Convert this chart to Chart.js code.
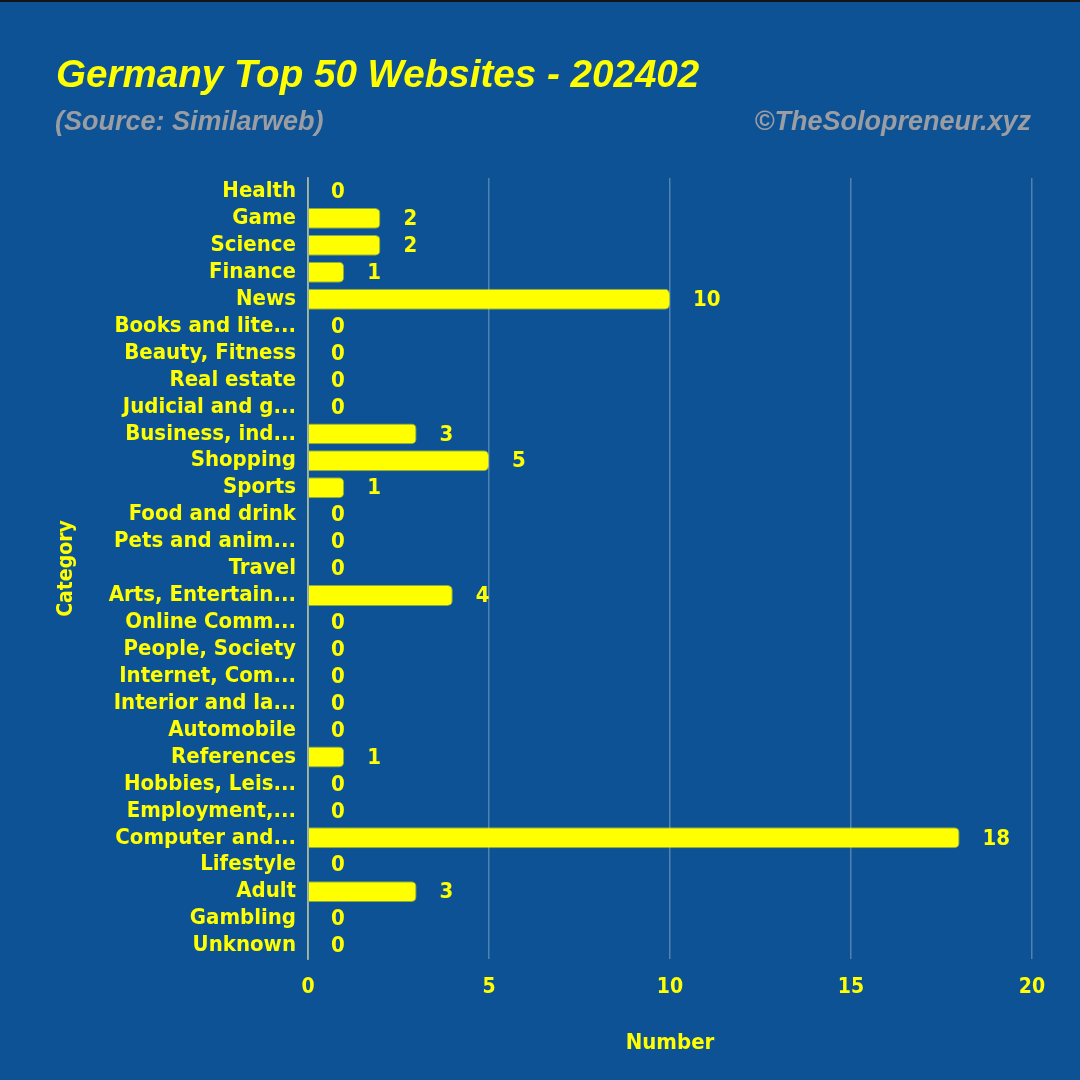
<!DOCTYPE html>
<html>
<head>
<meta charset="utf-8">
<title>Germany Top 50 Websites - 202402</title>
<script src="https://cdn.jsdelivr.net/npm/chart.js@4.4.1/dist/chart.umd.min.js"></script>
<style>
  html, body { margin: 0; padding: 0; background: #0d5294; }
  #wrap { width: 1080px; height: 1080px; }
</style>
</head>
<body>
<div id="wrap"><canvas id="topSitesChart" width="1080" height="1080"></canvas></div>
<script>
// Categories top to bottom, as listed on the chart
const categories = [
    'Health', 'Game', 'Science', 'Finance', 'News',
    'Books and lite...', 'Beauty, Fitness', 'Real estate', 'Judicial and g...',
    'Business, ind...', 'Shopping', 'Sports', 'Food and drink', 'Pets and anim...',
    'Travel', 'Arts, Entertain...', 'Online Comm...', 'People, Society',
    'Internet, Com...', 'Interior and la...', 'Automobile', 'References',
    'Hobbies, Leis...', 'Employment,...', 'Computer and...', 'Lifestyle',
    'Adult', 'Gambling', 'Unknown'
];

// Number of sites per category (sums to 50)
const siteCounts = [
    0, 2, 2, 1, 10,
    0, 0, 0, 0,
    3, 5, 1, 0, 0,
    0, 4, 0, 0,
    0, 0, 0, 1,
    0, 0, 18, 0,
    3, 0, 0
];

const xTickValues = [0, 5, 10, 15, 20];

const titleText = 'Germany Top 50 Websites - 202402';
const sourceText = '(Source: Similarweb)';
const creditText = '\u00A9TheSolopreneur.xyz';

const YELLOW = '#ffff00';
const BG = '#0d5294';
const GREY = '#9a9da3';
const LABEL_FONT = "'DejaVu Sans Condensed', 'DejaVu Sans', sans-serif";
const HEAD_FONT = "'Liberation Sans', Arial, sans-serif";

// background + header texts
const headerPlugin = {
    id: 'header',
    beforeDraw(chart) {
        const ctx = chart.ctx;
        ctx.save();
        ctx.fillStyle = BG;
        ctx.fillRect(0, 0, chart.width, chart.height);
        ctx.fillStyle = '#141414';
        ctx.fillRect(0, 0, chart.width, 2);
        ctx.restore();
    },
    afterDraw(chart) {
        const ctx = chart.ctx;
        ctx.save();
        ctx.textBaseline = 'middle';
        ctx.fillStyle = YELLOW;
        ctx.font = 'italic bold 38.6px ' + HEAD_FONT;
        ctx.textAlign = 'left';
        ctx.fillText(titleText, 56, 76);
        ctx.fillStyle = GREY;
        ctx.font = 'italic bold 27px ' + HEAD_FONT;
        ctx.fillText(sourceText, 55, 123);
        ctx.textAlign = 'right';
        ctx.fillText(creditText, 1031, 123);
        ctx.restore();
    }
};

// value labels to the right of each bar
const valueLabels = {
    id: 'valueLabels',
    afterDatasetsDraw(chart) {
        const ctx = chart.ctx;
        const meta = chart.getDatasetMeta(0);
        ctx.save();
        ctx.fillStyle = YELLOW;
        ctx.font = 'bold 22px ' + LABEL_FONT;
        ctx.textAlign = 'left';
        ctx.textBaseline = 'middle';
        meta.data.forEach((bar, i) => {
            ctx.fillText(String(siteCounts[i]), bar.x + 23, bar.y + 1);
        });
        ctx.restore();
    }
};

const ctx = document.getElementById('topSitesChart').getContext('2d');

new Chart(ctx, {
    type: 'bar',
    data: {
        labels: categories,
        datasets: [{
            label: 'Number',
            data: siteCounts,
            backgroundColor: YELLOW,
            borderColor: 'rgba(255, 255, 0, 0.5)',
            borderWidth: 1,
            borderRadius: 5,
            borderSkipped: 'start',
            barPercentage: 0.97,
            categoryPercentage: 0.8
        }]
    },
    options: {
        indexAxis: 'y',
        responsive: false,
        devicePixelRatio: 1,
        animation: false,
        layout: {
            padding: { top: 178, left: 54, right: 48, bottom: 20 }
        },
        scales: {
            x: {
                type: 'linear',
                min: 0,
                max: 20,
                afterBuildTicks: scale => {
                    scale.ticks = xTickValues.map(v => ({ value: v }));
                },
                afterFit: scale => { scale.height = 101; },
                grid: {
                    color: 'rgba(255, 255, 255, 0.28)',
                    lineWidth: 1.5,
                    drawTicks: false
                },
                border: { display: false },
                ticks: {
                    color: YELLOW,
                    padding: 16,
                    font: { family: LABEL_FONT, size: 21, weight: 'bold' }
                },
                title: {
                    display: true,
                    text: 'Number',
                    color: YELLOW,
                    padding: { top: 4, bottom: 4 },
                    font: { family: LABEL_FONT, size: 22, weight: 'bold' }
                }
            },
            y: {
                afterFit: scale => { scale.width = 254; },
                grid: { display: false, drawTicks: false },
                border: {
                    display: true,
                    color: 'rgba(215, 215, 150, 0.6)',
                    width: 2
                },
                ticks: {
                    color: YELLOW,
                    padding: 12,
                    autoSkip: false,
                    font: { family: LABEL_FONT, size: 22, weight: 'bold' }
                },
                title: {
                    display: true,
                    text: 'Category',
                    color: YELLOW,
                    padding: { top: 0, bottom: 4 },
                    font: { family: LABEL_FONT, size: 21, weight: 'bold' }
                }
            }
        },
        plugins: {
            legend: { display: false },
            title: { display: false },
            tooltip: { enabled: false }
        }
    },
    plugins: [headerPlugin, valueLabels]
});
</script>
</body>
</html>
